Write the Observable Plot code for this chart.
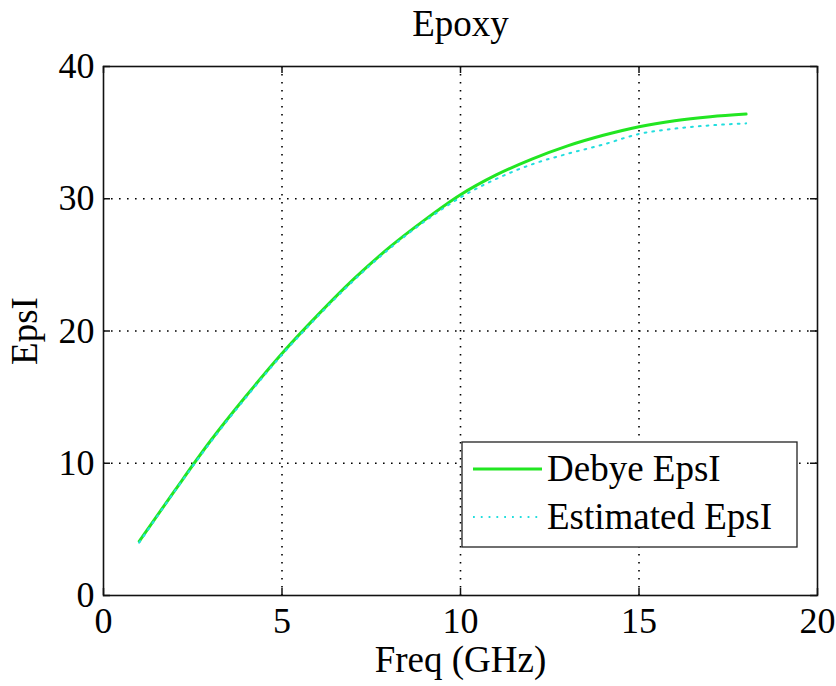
<!DOCTYPE html>
<html>
<head>
<meta charset="utf-8">
<script src="https://cdn.jsdelivr.net/npm/d3@7"></script>
<script src="https://cdn.jsdelivr.net/npm/@observablehq/plot@0.6"></script>
<style>
html, body { margin: 0; padding: 0; background: #fff; }
</style>
</head>
<body>
<div id="chart"></div>
<script>
// ---- data ----
const freq = [1, 2, 3, 4, 5, 6, 7, 8, 9, 10, 11, 12, 13, 14, 15, 16, 17, 18];
const debyeEpsI = [4.1, 7.95, 11.7, 15.1, 18.3, 21.2, 23.9, 26.3, 28.4, 30.3, 31.8, 33.0, 34.0, 34.8, 35.45, 35.9, 36.2, 36.4];
const estimatedEpsI = [4.0, 7.9, 11.6, 15.0, 18.2, 21.1, 23.8, 26.2, 28.3, 30.1, 31.5, 32.6, 33.4, 34.1, 34.9, 35.3, 35.55, 35.7];
const xTicks = [0, 5, 10, 15, 20];
const yTicks = [0, 10, 20, 30, 40];
const titleText = "Epoxy";
const xLabel = "Freq (GHz)";
const yLabel = "EpsI";
const seriesNames = ["Debye EpsI", "Estimated EpsI"];
const seriesColors = ["#22e622", "#22dede"];

// ---- layout ----
const W = 836, H = 686;
const mL = 103, mR = 19, mT = 66, mB = 91;
const fw = W - mL - mR, fh = H - mT - mB;
const font = "'Liberation Serif', 'Times New Roman', Times, serif";

const debyeRows = freq.map((f, i) => ({f, v: debyeEpsI[i]}));
const estRows = freq.map((f, i) => ({f, v: estimatedEpsI[i]}));

const gridStyle = {stroke: "#000", strokeWidth: 1.6, strokeDasharray: "1.6,6.4"};
const tickStyle = {stroke: "#111", strokeWidth: 1.5};

const plot = Plot.plot({
  width: W, height: H,
  marginLeft: mL, marginRight: mR, marginTop: mT, marginBottom: mB,
  style: {fontFamily: font, fontSize: "36px", color: "#000", background: "#fff", overflow: "visible"},
  x: {domain: [0, 20], ticks: xTicks},
  y: {domain: [0, 40], ticks: yTicks},
  marks: [
    Plot.ruleX(xTicks.slice(1, -1), {x: d => d, ...gridStyle}),
    Plot.ruleY(yTicks.slice(1, -1), {y: d => d, ...gridStyle}),
    Plot.tickX(xTicks, {x: d => d, insetTop: fh - 7, ...tickStyle}),
    Plot.tickX(xTicks, {x: d => d, insetBottom: fh - 7, ...tickStyle}),
    Plot.tickY(yTicks, {y: d => d, insetRight: fw - 7, ...tickStyle}),
    Plot.tickY(yTicks, {y: d => d, insetLeft: fw - 7, ...tickStyle}),
    Plot.line(debyeRows, {x: "f", y: "v", stroke: seriesColors[0], strokeWidth: 3, curve: "monotone-x"}),
    Plot.line(estRows, {x: "f", y: "v", stroke: seriesColors[1], strokeWidth: 2, strokeDasharray: "1.8,6", curve: "monotone-x"}),
    Plot.frame({stroke: "#111", strokeWidth: 1.6}),
    Plot.axisX({ticks: xTicks, tickSize: 0, tickPadding: 12, fontSize: 36, label: null}),
    Plot.axisY({ticks: yTicks, tickSize: 0, tickPadding: 9, fontSize: 36, label: null}),
    Plot.text([titleText], {text: d => d, frameAnchor: "top", lineAnchor: "middle", dy: -42, fontSize: 37}),
    Plot.text([xLabel], {text: d => d, frameAnchor: "bottom", lineAnchor: "middle", dy: 65, fontSize: 37}),
    Plot.text([yLabel], {text: d => d, frameAnchor: "left", lineAnchor: "middle", textAnchor: "middle", dx: -78, rotate: -90, fontSize: 37})
  ]
});

// ---- legend inside the axes (bottom-right) ----
const svg = d3.select(plot);
const xs = plot.scale("x"), ys = plot.scale("y");
const right = xs.apply(20), bottom = ys.apply(0);
const lw = 335, lh = 105;
const bx = right - 20 - lw, by = bottom - 48 - lh;
const lg = svg.append("g");
lg.append("rect").attr("x", bx).attr("y", by).attr("width", lw).attr("height", lh)
  .attr("fill", "#fff").attr("stroke", "#222").attr("stroke-width", 1.3);
seriesNames.forEach((name, i) => {
  const yy = by + 27 + i * 48;
  const ln = lg.append("line").attr("x1", bx + 11).attr("x2", bx + 80).attr("y1", yy).attr("y2", yy)
    .attr("stroke", seriesColors[i]).attr("stroke-width", i === 0 ? 3 : 2);
  if (i === 1) ln.attr("stroke-dasharray", "1.8,6");
  lg.append("text").attr("x", bx + 85).attr("y", yy + 12).attr("font-size", 37)
    .attr("text-anchor", "start").attr("font-family", font).attr("fill", "#000").text(name);
});

document.getElementById("chart").appendChild(plot);
</script>
</body>
</html>
